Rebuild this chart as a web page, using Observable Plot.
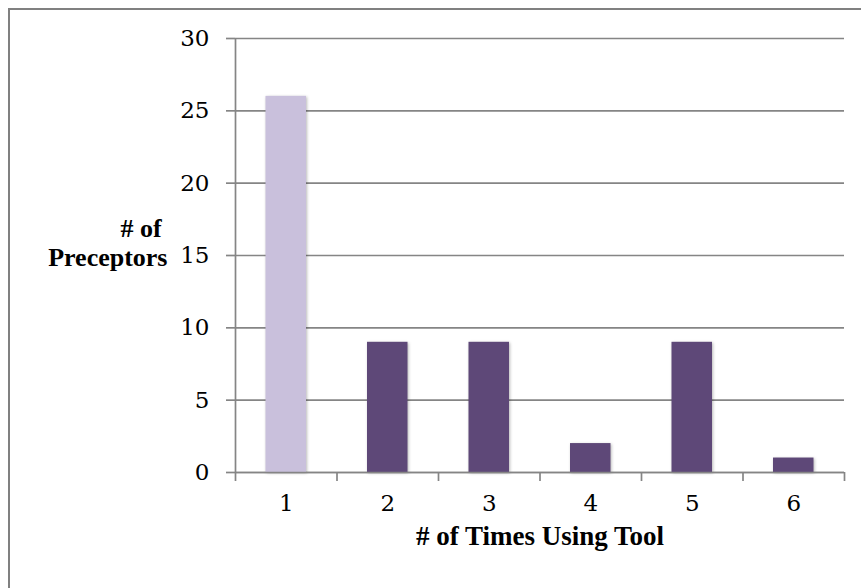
<!DOCTYPE html>
<html>
<head>
<meta charset="utf-8">
<script src="https://cdn.jsdelivr.net/npm/d3@7"></script>
<script src="https://cdn.jsdelivr.net/npm/@observablehq/plot@0.6"></script>
<style>
  html, body { margin: 0; padding: 0; background: #fff; }
  #wrap { position: relative; width: 861px; height: 588px; overflow: hidden; }
  #frame { position: absolute; left: 8px; top: 8px; width: 900px; height: 640px;
           border-left: 2px solid #808080; border-top: 2px solid #808080; box-sizing: border-box; }
  #chart { position: absolute; left: 0; top: 0; }
  .bars { filter: drop-shadow(1.5px 1.5px 1.5px rgba(0,0,0,0.28)); }
</style>
</head>
<body>
<div id="wrap"><div id="frame"></div><div id="chart"></div></div>
<script>
// Number of times each preceptor used the tool, and how many preceptors did so
const times = [1, 2, 3, 4, 5, 6];
const preceptors = [26, 9, 9, 2, 9, 1];
const barColors = ["#c9c0dc", "#5e4878", "#5e4878", "#5e4878", "#5e4878", "#5e4878"];
const yTicks = [0, 5, 10, 15, 20, 25, 30];
const xTitle = "# of Times Using Tool";
const yTitleLines = ["# of", "Preceptors"];

const data = times.map((t, i) => ({times: t, count: preceptors[i], color: barColors[i]}));
const boundaries = d3.range(0.5, times.length + 1, 1);

const grid = "#858585";
const serif = "'DejaVu Serif', 'Liberation Serif', serif";
const titleFont = "'Liberation Serif', 'Times New Roman', serif";

const chart = Plot.plot({
  width: 861,
  height: 588,
  marginLeft: 235,
  marginRight: 17,
  marginTop: 38,
  marginBottom: 116,
  style: {fontFamily: serif, fontSize: "23px", color: "#000", background: "transparent"},
  x: {type: "linear", domain: [0.5, times.length + 0.5]},
  y: {domain: [0, 30]},
  marks: [
    // horizontal gridlines
    Plot.ruleY(yTicks, {stroke: grid, strokeWidth: 1.7}),
    // bars
    Plot.rectY(data, {
      x1: d => d.times - 0.5, x2: d => d.times + 0.5, y: "count",
      fill: "color", insetLeft: 30.5, insetRight: 30.5, className: "bars"
    }),
    // axis lines
    Plot.ruleX([0.5], {stroke: grid, strokeWidth: 1.7}),
    Plot.ruleY([0], {stroke: grid, strokeWidth: 1.7}),
    // y axis ticks and labels
    Plot.axisY({ticks: yTicks, tickSize: 9, tickPadding: 17, stroke: grid, strokeWidth: 1.7,
                label: null, fontSize: 23}),
    // x tick marks at category boundaries
    Plot.axisX({ticks: boundaries, tickSize: 9, tickFormat: () => "", stroke: grid,
                strokeWidth: 1.7, label: null}),
    // x tick labels at category centers
    Plot.axisX({ticks: times, tickSize: 0, tickPadding: 22, label: null, fontSize: 23,
                tickFormat: d => String(d)}),
    // axis titles
    Plot.text([xTitle], {frameAnchor: "bottom", dy: 72, fontFamily: titleFont,
                         fontWeight: "bold", fontSize: 27}),
    Plot.text([yTitleLines[0]], {frameAnchor: "left", dx: -115, dy: -27,
                                 fontFamily: titleFont, fontWeight: "bold", fontSize: 26}),
    Plot.text([yTitleLines[1]], {frameAnchor: "left", textAnchor: "end", dx: -68, dy: 2,
                                 fontFamily: titleFont, fontWeight: "bold", fontSize: 26})
  ]
});
document.getElementById("chart").appendChild(chart);
</script>
</body>
</html>
